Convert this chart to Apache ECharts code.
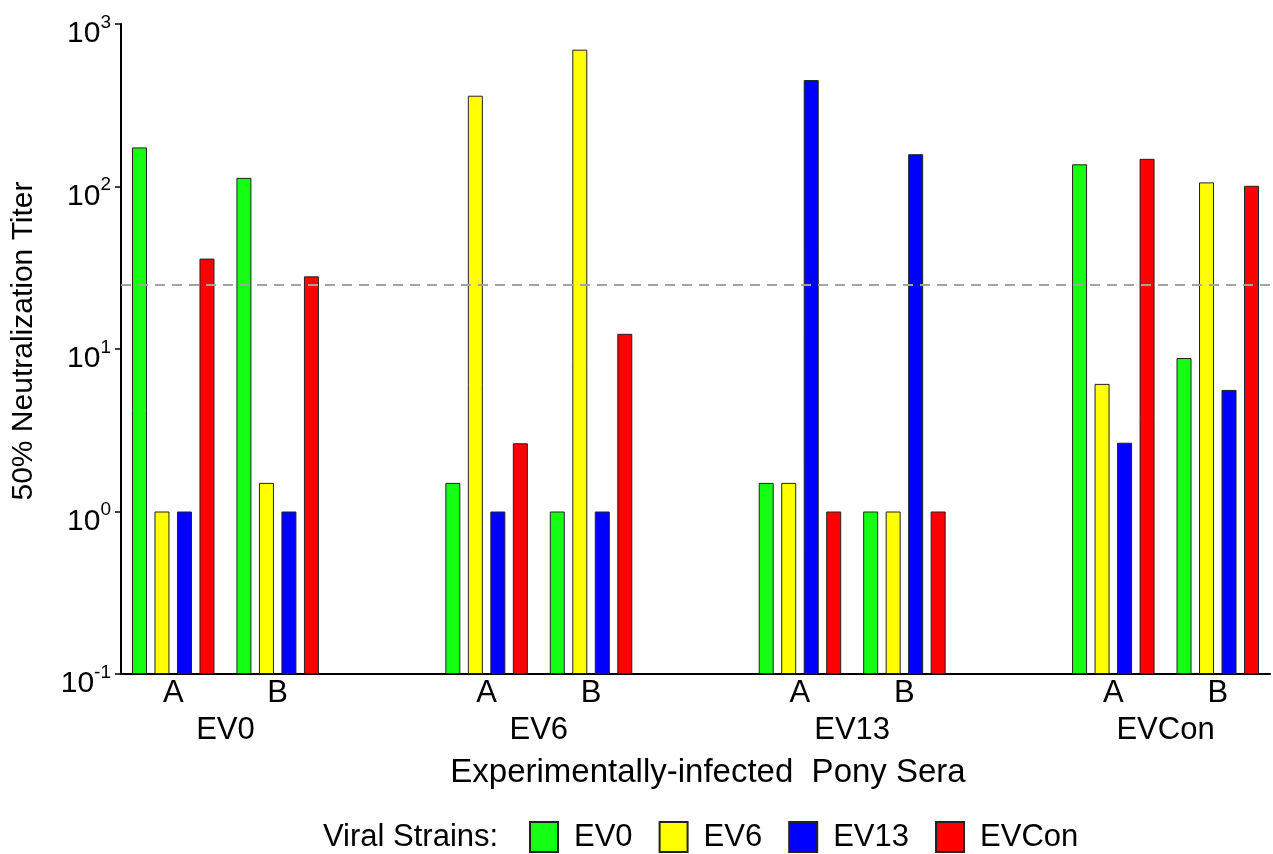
<!DOCTYPE html>
<html>
<head>
<meta charset="utf-8">
<script src="https://cdn.jsdelivr.net/npm/echarts@6/dist/echarts.min.js"></script>
<style>
html,body{margin:0;padding:0;background:#fff;}
#chart{width:1273px;height:854px;}
</style>
</head>
<body>
<div id="chart"></div>
<script>
// ---- data ----
const subCategories = ['A', 'B', '', 'A', 'B', '', 'A', 'B', '', 'A', 'B'];
const groupLabels = ['', 'EV0', '', '', 'EV6', '', '', 'EV13', '', '', 'EVCon', ''];
const strainNames = ['EV0', 'EV6', 'EV13', 'EVCon'];
const ev0Values   = [174, 113, null, 1.5, 1,   null, 1.5, 1,   null, 137,  8.8];
const ev6Values   = [1,   1.5, null, 362, 695, null, 1.5, 1,   null, 6.1,  106];
const ev13Values  = [1,   1,   null, 1,   1,   null, 452, 158, null, 2.65, 5.6];
const evconValues = [36,  28,  null, 2.63, 12.4, null, 1, 1,   null, 148,  101];
const thresholdValue = 25;
const yMin = 0.1, yMax = 1000;
const xTitle = 'Experimentally-infected  Pony Sera';
const yTitle = '50% Neutralization Titer';
const legendTitle = 'Viral Strains:';

const colors = ['#14ff14', '#ffff00', '#0000ff', '#ff0000'];
const FONT = '"Liberation Sans", Arial, Helvetica, sans-serif';

const seriesValues = [ev0Values, ev6Values, ev13Values, evconValues];

const chart = echarts.init(document.getElementById('chart'), null, {renderer: 'canvas'});

const series = strainNames.map((name, i) => ({
  name: name,
  type: 'bar',
  xAxisIndex: 0,
  yAxisIndex: 0,
  data: seriesValues[i],
  barWidth: 15,
  barGap: '50%',
  itemStyle: {color: colors[i], borderColor: '#222', borderWidth: 1},
  emphasis: {disabled: true},
  markLine: i === 0 ? {
    silent: true,
    symbol: ['none', 'none'],
    label: {show: false},
    lineStyle: {color: '#a3a3a3', type: [10, 7], width: 2},
    data: [{yAxis: thresholdValue}]
  } : undefined
}));

const option = {
  animation: false,
  backgroundColor: '#ffffff',
  textStyle: {fontFamily: FONT},
  grid: {left: 121, top: 24, width: 1155, height: 650, containLabel: false},
  legend: {
    data: strainNames,
    left: 529,
    top: 821,
    padding: 0,
    itemWidth: 28,
    itemHeight: 30,
    itemGap: 26,
    icon: 'rect',
    textStyle: {fontSize: 31, color: '#000', fontFamily: FONT, padding: [0, 0, 0, 11]},
    selectedMode: false
  },
  graphic: [{
    type: 'text',
    left: 323,
    top: 822,
    style: {text: legendTitle, fill: '#000', font: '31px ' + FONT}
  }],
  xAxis: [{
    type: 'category',
    gridIndex: 0,
    position: 'bottom',
    data: subCategories,
    axisLine: {lineStyle: {color: '#000', width: 2}},
    axisTick: {show: false},
    axisLabel: {interval: 0, fontSize: 31, color: '#000', margin: 4, fontFamily: FONT},
    name: xTitle,
    nameLocation: 'middle',
    nameGap: 82,
    nameTextStyle: {fontSize: 33, color: '#000', fontFamily: FONT, padding: [0, 0, 0, 25]}
  }, {
    type: 'category',
    gridIndex: 0,
    position: 'bottom',
    boundaryGap: false,
    data: groupLabels,
    axisLine: {show: false},
    axisTick: {show: false},
    axisLabel: {interval: 0, fontSize: 31, color: '#000', margin: 41, fontFamily: FONT}
  }],
  yAxis: {
    type: 'log',
    logBase: 10,
    min: yMin,
    max: yMax,
    startValue: yMin,
    axisLine: {show: true, lineStyle: {color: '#000', width: 2}},
    axisTick: {show: true, length: 6, lineStyle: {color: '#000', width: 1.5}},
    splitLine: {show: false},
    minorTick: {show: false},
    axisLabel: {
      margin: 10,
      color: '#000',
      padding: [14, 0, 0, 0],
      formatter: function (v) {
        const e = Math.round(Math.log10(v));
        return '{b|10}{s|' + e + '}';
      },
      rich: {
        b: {fontSize: 30, lineHeight: 36, color: '#000', fontFamily: FONT, verticalAlign: 'bottom'},
        s: {fontSize: 19, lineHeight: 36, color: '#000', fontFamily: FONT, verticalAlign: 'top', padding: [0, 0, 14, 0]}
      }
    },
    name: yTitle,
    nameLocation: 'middle',
    nameRotate: 90,
    nameGap: 82,
    nameTextStyle: {fontSize: 30, color: '#000', fontFamily: FONT, padding: [0, 0, 0, 16]}
  },
  series: series
};

chart.setOption(option);
</script>
</body>
</html>
